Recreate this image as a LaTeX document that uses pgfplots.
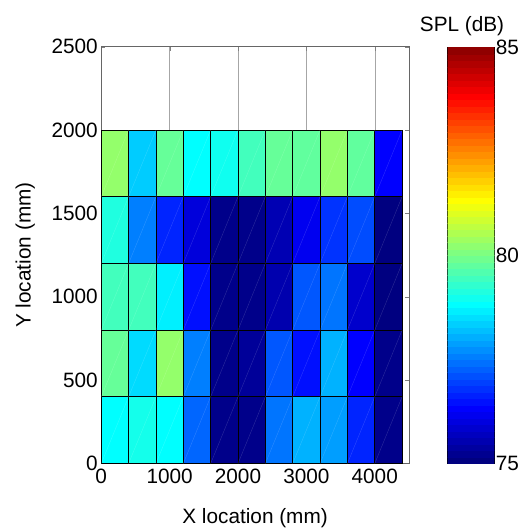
\documentclass[border=0pt]{standalone}
\usepackage{pgfplots}
\usepackage{pgfplotstable}
\pgfplotsset{compat=1.18}
\usepackage{fontspec}
\setmainfont{Liberation Sans}

% SPL measured on a 400 mm grid, cell centres
\pgfplotstableread{
x y c
200 200 78.75
600 200 78.95
1000 200 78.75
1400 200 77.25
1800 200 75.1
2200 200 75.1
2600 200 77.4
3000 200 78.0
3400 200 77.8
3800 200 76.6
4200 200 75.1
200 600 79.75
600 600 78.4
1000 600 80.2
1400 600 77.5
1800 600 75.1
2200 600 75.25
2600 600 77.1
3000 600 76.4
3400 600 78.0
3800 600 76.25
4200 600 75.1
200 1000 79.4
600 1000 79.4
1000 1000 78.6
1400 1000 76.4
1800 1000 75.1
2200 1000 75.1
2600 1000 75.45
3000 1000 77.1
3400 1000 77.4
3800 1000 75.75
4200 1000 75.0
200 1400 79.05
600 1400 77.5
1000 1400 76.6
1400 1400 75.9
1800 1400 75.1
2200 1400 75.1
2600 1400 75.5
3000 1400 76.1
3400 1400 76.75
3800 1400 77.0
4200 1400 75.0
200 1800 80.2
600 1800 78.25
1000 1800 79.75
1400 1800 78.75
1800 1800 78.9
2200 1800 79.4
2600 1800 79.75
3000 1800 79.7
3400 1800 80.2
3800 1800 79.7
4200 1800 76.25
}\spl

% colour bar levels (64 bands, 75..85 dB)
\pgfplotstableread{
x y
0 75
1 75
0 75.15625
1 75.15625
0 75.3125
1 75.3125
0 75.46875
1 75.46875
0 75.625
1 75.625
0 75.78125
1 75.78125
0 75.9375
1 75.9375
0 76.09375
1 76.09375
0 76.25
1 76.25
0 76.40625
1 76.40625
0 76.5625
1 76.5625
0 76.71875
1 76.71875
0 76.875
1 76.875
0 77.03125
1 77.03125
0 77.1875
1 77.1875
0 77.34375
1 77.34375
0 77.5
1 77.5
0 77.65625
1 77.65625
0 77.8125
1 77.8125
0 77.96875
1 77.96875
0 78.125
1 78.125
0 78.28125
1 78.28125
0 78.4375
1 78.4375
0 78.59375
1 78.59375
0 78.75
1 78.75
0 78.90625
1 78.90625
0 79.0625
1 79.0625
0 79.21875
1 79.21875
0 79.375
1 79.375
0 79.53125
1 79.53125
0 79.6875
1 79.6875
0 79.84375
1 79.84375
0 80
1 80
0 80.15625
1 80.15625
0 80.3125
1 80.3125
0 80.46875
1 80.46875
0 80.625
1 80.625
0 80.78125
1 80.78125
0 80.9375
1 80.9375
0 81.09375
1 81.09375
0 81.25
1 81.25
0 81.40625
1 81.40625
0 81.5625
1 81.5625
0 81.71875
1 81.71875
0 81.875
1 81.875
0 82.03125
1 82.03125
0 82.1875
1 82.1875
0 82.34375
1 82.34375
0 82.5
1 82.5
0 82.65625
1 82.65625
0 82.8125
1 82.8125
0 82.96875
1 82.96875
0 83.125
1 83.125
0 83.28125
1 83.28125
0 83.4375
1 83.4375
0 83.59375
1 83.59375
0 83.75
1 83.75
0 83.90625
1 83.90625
0 84.0625
1 84.0625
0 84.21875
1 84.21875
0 84.375
1 84.375
0 84.53125
1 84.53125
0 84.6875
1 84.6875
0 84.84375
1 84.84375
0 85
1 85
}\cbar

\begin{document}
\begin{tikzpicture}
\path (0,0) rectangle (531bp,527bp);
\begin{axis}[
  at={(102bp,60bp)}, anchor=south west,
  scale only axis, width=310bp, height=420bp,
  xmin=0, xmax=4500, ymin=0, ymax=2500,
  xtick={0,1000,...,4000}, ytick={0,500,...,2500},
  tick align=inside, major tick length=4bp,
  xmajorgrids, grid style={gray!70, line width=0.4pt},
  axis line style={gray!80!black, line width=0.6pt},
  /pgf/number format/1000 sep={},
  /pgf/number format/assume math mode=true,
  tick label style={font=\fontsize{21}{24}\selectfont},
  label style={font=\fontsize{21}{24}\selectfont},
  xticklabel style={yshift=-2bp},
  xlabel={X location (mm)}, ylabel={Y location (mm)},
  xlabel style={yshift=-18bp},
  ylabel style={yshift=10bp},
  colormap/jet,
  point meta min=75, point meta max=85,
]
\addplot[matrix plot*, mesh/cols=11, point meta=explicit,
  draw=black, line width=0.7pt] table[meta=c] {\spl};
% faint patch diagonals, as in the exported figure
\addplot[white, opacity=0.2, line width=0.3pt, -,
  quiver={u=400, v=400}] table[x expr=\thisrow{x}-200,
  y expr=\thisrow{y}-200] {\spl};
\end{axis}

\begin{axis}[
  at={(451bp,60bp)}, anchor=south west,
  scale only axis, width=47bp, height=419bp,
  xmin=0, xmax=1, ymin=75, ymax=85,
  xtick=\empty, ytick={75,80,85},
  yticklabel pos=right,
  tick align=inside, major tick length=4bp,
  axis line style={black, line width=0.6pt},
  /pgf/number format/assume math mode=true,
  tick label style={font=\fontsize{21}{24}\selectfont},
  yticklabel style={xshift=-2bp},
  title={SPL (dB)},
  title style={font=\fontsize{21}{24}\selectfont, xshift=-9bp, yshift=2bp},
  colormap/jet,
  point meta min=75, point meta max=85,
]
\addplot[surf, shader=flat corner, mesh/cols=2, point meta=y, draw=none]
  table {\cbar};
\end{axis}
\end{tikzpicture}
\end{document}
